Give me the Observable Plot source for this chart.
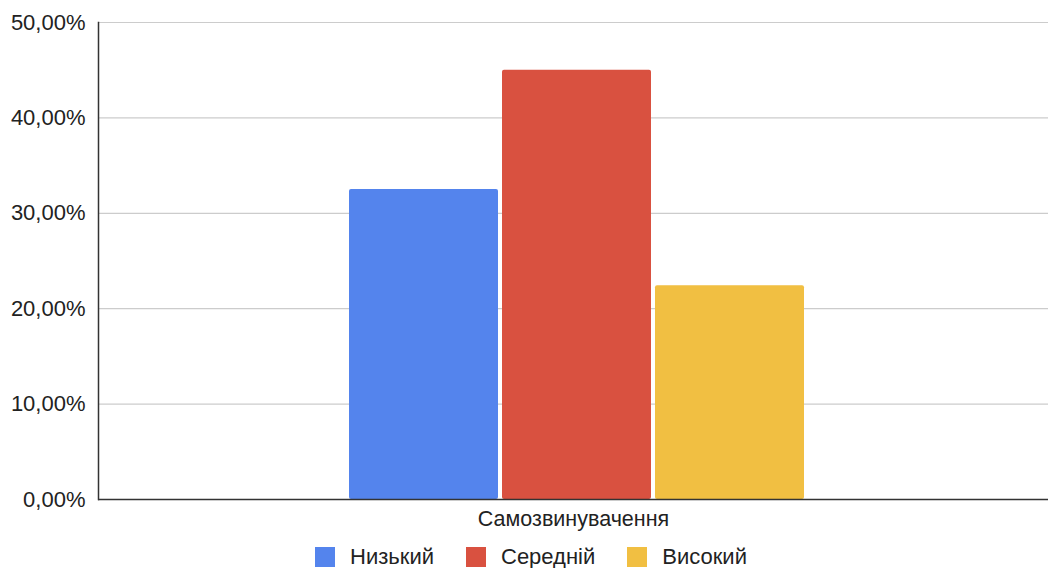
<!DOCTYPE html>
<html>
<head>
<meta charset="utf-8">
<script src="https://cdn.jsdelivr.net/npm/d3@7"></script>
<script src="https://cdn.jsdelivr.net/npm/@observablehq/plot@0.6"></script>
<style>
  html, body { margin: 0; padding: 0; background: #fff; }
  #chart { width: 1048px; height: 568px; position: relative; overflow: hidden; }
  #legend { position: absolute; left: 0; top: 546px; width: 1048px; box-sizing: border-box; padding-left: 14px; display: flex; justify-content: center; }
  #legend > div { justify-content: center; font-family: "Liberation Sans", Arial, sans-serif; font-size: 22px; color: #222; margin: 0 !important; min-height: 0 !important; line-height: 22px; }
  #legend span { margin-right: 32px !important; }
  #legend span:last-child { margin-right: 0 !important; }
  #legend svg { margin-right: 15px !important; }
</style>
</head>
<body>
<div id="chart"><div id="plot"></div><div id="legend"></div></div>
<script>
const categories = ["Самозвинувачення"];
const series = ["Низький", "Середній", "Високий"];
const values = [0.325, 0.45, 0.224];
const colors = ["#5484ED", "#D95140", "#F1BF42"];
const yTicks = [0, 0.1, 0.2, 0.3, 0.4, 0.5];

const data = series.map((s, i) => ({category: categories[0], series: s, value: values[i]}));
const fmt = d => (d * 100).toFixed(2).replace(".", ",") + "%";

const chart = Plot.plot({
  width: 1048,
  height: 542,
  marginLeft: 98,
  marginRight: 0,
  marginTop: 22,
  marginBottom: 43,
  style: {fontFamily: "Liberation Sans, Arial, sans-serif", fontSize: "20px", color: "#222", background: "#fff"},
  fx: {domain: categories, padding: 0, label: null},
  x: {domain: series, paddingInner: 0.028, paddingOuter: 1.6, align: 0.506, axis: null},
  y: {domain: [0, 0.5], ticks: yTicks, label: null},
  color: {domain: series, range: colors},
  marks: [
    Plot.gridY(yTicks, {stroke: "#ccc", strokeOpacity: 1, strokeWidth: 1.2}),
    Plot.axisY(yTicks, {tickSize: 0, tickPadding: 13, tickFormat: fmt, fontSize: 22, label: null}),
    Plot.axisFx({anchor: "bottom", tickSize: 0, tickPadding: 11, fontSize: 21.5, label: null}),
    Plot.barY(data, {fx: "category", x: "series", y: "value", fill: "series", rx: 2}),
    Plot.ruleY([0], {stroke: "#333", strokeWidth: 1.5}),
    Plot.frame({anchor: "left", stroke: "#333", strokeWidth: 1.5})
  ]
});
document.getElementById("plot").appendChild(chart);

const legend = Plot.legend({
  color: {domain: series, range: colors},
  legend: "swatches",
  swatchSize: 20
});
document.getElementById("legend").appendChild(legend);
</script>
</body>
</html>
